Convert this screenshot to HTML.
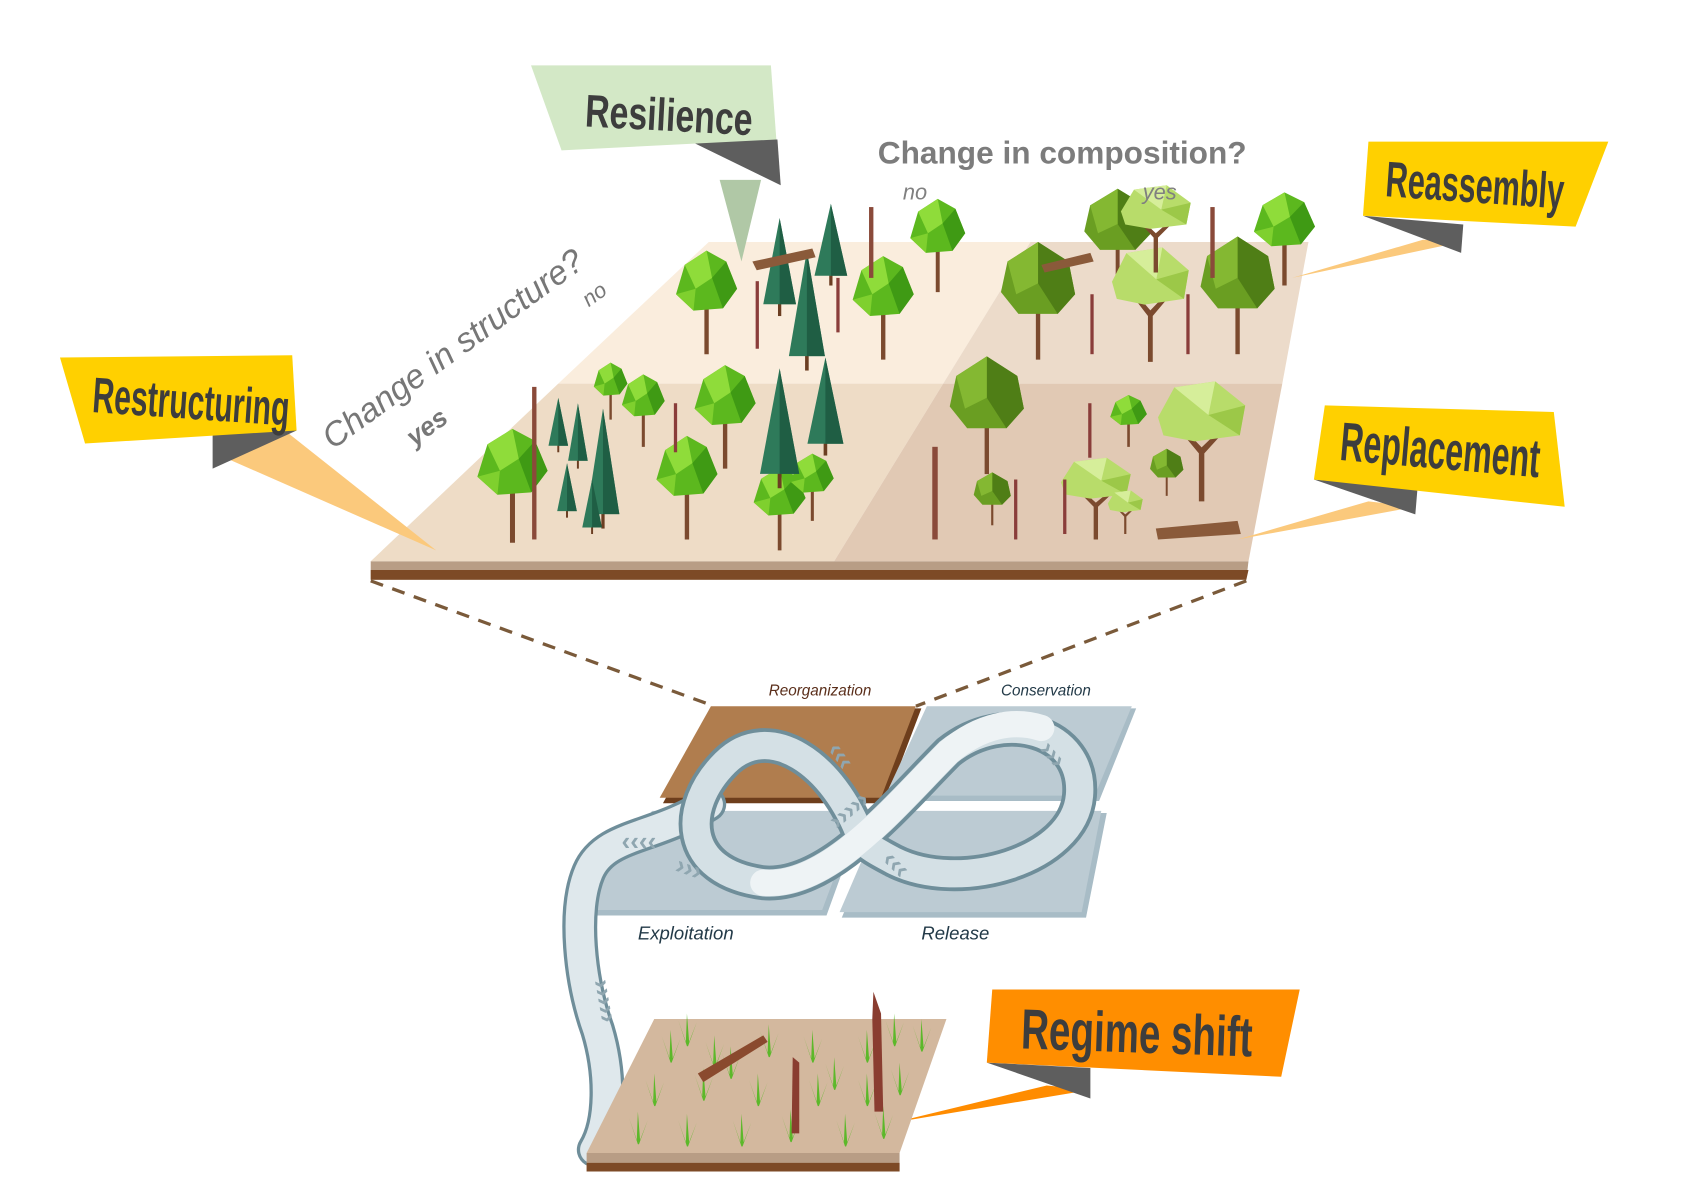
<!DOCTYPE html>
<html><head><meta charset="utf-8"><style>
html,body{margin:0;padding:0;background:#fff;}
svg{display:block}
.lab{font-family:"Liberation Sans",sans-serif;font-weight:bold;fill:#3d3d3d;}
.it{font-family:"Liberation Sans",sans-serif;font-style:italic;}
</style></head><body>
<svg width="1701" height="1177" viewBox="0 0 1560 1080" preserveAspectRatio="none" xmlns="http://www.w3.org/2000/svg">
<defs>
<g id="bl">
<path d="M-2 0 L2 0 L2 -45 L10 -60 L7 -61 L0 -50 L-6 -62 L-9 -60 L-2 -45Z" fill="#7b4a2e"/>
<polygon points="-28,-55 -20,-82 0,-95 18,-85 28,-60 15,-42 -12,-40" fill="#5cb81e"/>
<polygon points="-20,-82 0,-95 5,-70 -10,-60" fill="#8fdc3a"/>
<polygon points="5,-70 18,-85 28,-60 15,-42" fill="#3f9a14"/>
<polygon points="-28,-55 -10,-60 -12,-40" fill="#7fd02e"/>
</g>
<g id="cf">
<rect x="-1.5" y="-15" width="3" height="15" fill="#6b3e22"/>
<polygon points="0,-100 -15,-12 15,-12" fill="#2e7a5a"/>
<polygon points="0,-100 0,-12 15,-12" fill="#1f5e44"/>
</g>
<g id="ol">
<rect x="-2" y="-45" width="4" height="45" fill="#7b4a2e"/>
<polygon points="0,-108 28,-90 34,-60 18,-42 -18,-42 -34,-62 -28,-90" fill="#6a9e22"/>
<polygon points="0,-108 28,-90 34,-60 18,-42 0,-70" fill="#4f7e16"/>
<polygon points="-28,-90 0,-108 0,-70 -20,-60" fill="#84b832"/>
</g>
<g id="lt">
<path d="M-2 0 L2 0 L2 -40 L14 -55 L11 -57 L0 -45 L-10 -57 L-13 -55 L-2 -40Z" fill="#7b4a2e"/>
<polygon points="-32,-70 -20,-95 10,-100 32,-80 28,-55 -5,-50 -28,-55" fill="#b8dc6a"/>
<polygon points="-20,-95 10,-100 5,-72" fill="#d6ee9a"/>
<polygon points="5,-72 32,-80 28,-55" fill="#9cc848"/>
</g>
<g id="gr">
<path d="M0 0 L-8 -24 L-1 -4 L0 -30 L2 -4 L9 -22 L1 0Z" fill="#5cb82a"/>
</g>
</defs>

<!-- top platform -->
<polygon points="340,515 1145,515 1143,532 340,532" fill="#b89d85"/>
<polygon points="340,523 1145,523 1143,532 340,532" fill="#7d4a26"/>
<polygon points="650,222 945,222 865,352 512,352" fill="#faeddd"/>
<polygon points="945,222 1200,222 1176,352 865,352" fill="#ecdbca"/>
<polygon points="512,352 865,352 765,515 340,515" fill="#eedcc6"/>
<polygon points="865,352 1176,352 1145,515 765,515" fill="#e1c9b4"/>

<!-- trees top-left -->
<use href="#bl" transform="translate(648 325)"/>
<use href="#bl" transform="translate(810 330)"/>
<use href="#bl" transform="translate(860 268) scale(0.9)"/>
<use href="#cf" transform="translate(715 290) scale(1 0.9)"/>
<use href="#cf" transform="translate(740 340) scale(1.1 1.1)"/>
<use href="#cf" transform="translate(762 262) scale(1 0.75)"/>
<rect x="693" y="258" width="3" height="62" fill="#8a3d3a"/>
<rect x="767" y="255" width="3" height="50" fill="#8a3d3a"/>
<rect x="797" y="190" width="4" height="65" fill="#8a4a3a"/>
<polygon points="690,240 745,228 748,236 694,248" fill="#8a5a3a"/>
<!-- top-right -->
<use href="#ol" transform="translate(952 330)"/>
<use href="#ol" transform="translate(1135 325)"/>
<use href="#ol" transform="translate(1025 265) scale(0.9 0.85)"/>
<use href="#lt" transform="translate(1055 332) scale(1.1 1.05)"/>
<use href="#lt" transform="translate(1060 250) scale(1 0.8)"/>
<use href="#bl" transform="translate(1178 262) scale(1 0.9)"/>
<rect x="1110" y="190" width="4" height="65" fill="#8a4a3a"/>
<rect x="1000" y="270" width="3" height="55" fill="#8a3d3a"/>
<rect x="1088" y="270" width="3" height="55" fill="#8a3d3a"/>
<polygon points="955,243 1000,232 1003,240 958,250" fill="#8a5a3a"/>
<!-- bottom-left -->
<use href="#bl" transform="translate(470 498) scale(1.15 1.1)"/>
<use href="#bl" transform="translate(630 495)"/>
<use href="#bl" transform="translate(665 430)"/>
<use href="#bl" transform="translate(590 410) scale(0.7)"/>
<use href="#bl" transform="translate(560 385) scale(0.55)"/>
<use href="#bl" transform="translate(715 505) scale(0.85 0.8)"/>
<use href="#bl" transform="translate(745 478) scale(0.7 0.65)"/>
<use href="#cf" transform="translate(512 415) scale(0.6 0.5)"/>
<use href="#cf" transform="translate(520 475) scale(0.6 0.5)"/>
<use href="#cf" transform="translate(553 485) scale(1 1.1)"/>
<use href="#cf" transform="translate(543 490) scale(0.6 0.5)"/>
<use href="#cf" transform="translate(715 448) scale(1.2 1.1)"/>
<use href="#cf" transform="translate(757 418) scale(1.1 0.9)"/>
<use href="#cf" transform="translate(530 430) scale(0.6 0.6)"/>
<rect x="488" y="355" width="4" height="140" fill="#8a4a3a"/>
<rect x="618" y="370" width="3" height="45" fill="#8a3d3a"/>
<!-- bottom-right -->
<use href="#ol" transform="translate(905 435)"/>
<use href="#ol" transform="translate(910 482) scale(0.5 0.45)"/>
<use href="#ol" transform="translate(1070 455) scale(0.45 0.4)"/>
<use href="#lt" transform="translate(1102 460) scale(1.25 1.1)"/>
<use href="#lt" transform="translate(1005 495) scale(1 0.75)"/>
<use href="#lt" transform="translate(1032 490) scale(0.5 0.4)"/>
<use href="#bl" transform="translate(1035 410) scale(0.6 0.5)"/>
<rect x="855" y="410" width="5" height="85" fill="#8a4a3a"/>
<rect x="998" y="370" width="3" height="50" fill="#8a3d3a"/>
<rect x="975" y="440" width="3" height="50" fill="#8a3d3a"/>
<rect x="930" y="440" width="3" height="55" fill="#8a3d3a"/>
<polygon points="1060,485 1135,478 1138,490 1062,495" fill="#8a5a3a"/>

<!-- axis text -->
<text x="805" y="150" font-family="Liberation Sans,sans-serif" font-weight="bold" font-size="29" fill="#7c7c7c">Change in composition?</text>
<text x="828" y="183" class="it" font-size="20" fill="#808080">no</text>
<text x="1048" y="183" class="it" font-size="20" fill="#808080">yes</text>
<text transform="translate(305,413) rotate(-36)" class="it" font-size="31" fill="#777">Change in structure?</text>
<text transform="translate(540,282) rotate(-36)" class="it" font-size="20" fill="#777">no</text>
<text transform="translate(380,410) rotate(-36)" class="it" font-size="24" font-weight="bold" fill="#777">yes</text>

<!-- callouts -->
<polygon points="660,165 698,165 680,240" fill="#b0c8a6"/>
<polygon points="630,128 713,128 716,170" fill="#5e5e5e"/>
<polygon points="487,60 707,60 712,128 515,138" fill="#d3e8c6"/>
<text class="lab" font-size="42" transform="translate(536 116) rotate(3) scale(0.74 1)">Resilience</text>

<polygon points="1305,220 1340,222 1185,255" fill="#fbc97c"/>
<polygon points="1250,198 1342,206 1340,232" fill="#5e5e5e"/>
<polygon points="1255,130 1475,130 1445,208 1250,198" fill="#ffd000"/>
<text class="lab" font-size="46" transform="translate(1270 180) rotate(4) scale(0.61 1)">Reassembly</text>

<polygon points="195,415 265,398 400,505" fill="#fbc97c"/>
<polygon points="195,395 272,395 195,430" fill="#5e5e5e"/>
<polygon points="55,328 268,326 272,395 78,407" fill="#ffd000"/>
<text class="lab" font-size="46" transform="translate(84 378) rotate(4) scale(0.6 1)">Restructuring</text>

<polygon points="1255,460 1298,465 1135,495" fill="#fbc97c"/>
<polygon points="1205,440 1300,448 1298,472" fill="#5e5e5e"/>
<polygon points="1215,372 1425,378 1435,465 1205,440" fill="#ffd000"/>
<text class="lab" font-size="50" transform="translate(1228 422) rotate(5) scale(0.59 1)">Replacement</text>

<polygon points="960,996 1000,1000 820,1030" fill="#ff8c00"/>
<polygon points="905,975 1000,980 1000,1008" fill="#5e5e5e"/>
<polygon points="910,908 1192,908 1175,988 905,975" fill="#ff8e00"/>
<text class="lab" font-size="52" transform="translate(936 962) rotate(2) scale(0.68 1)">Regime shift</text>

<!-- dashed -->
<line x1="340" y1="533" x2="655" y2="648" stroke="#7a5a3a" stroke-width="3" stroke-dasharray="12 9"/>
<line x1="1143" y1="533" x2="840" y2="648" stroke="#7a5a3a" stroke-width="3" stroke-dasharray="12 9"/>

<!-- panarchy planes -->
<polygon points="655,650 845,650 812,737 608,737" fill="#6e3e1c"/>
<polygon points="652,648 840,648 808,732 605,732" fill="#b07d4e"/>
<polygon points="852,650 1042,650 1008,735 815,735" fill="#a8bcc6"/>
<polygon points="850,648 1038,648 1004,730 812,730" fill="#bccbd3"/>
<polygon points="600,746 792,746 758,840 535,840" fill="#a8bcc6"/>
<polygon points="598,744 788,744 754,835 533,835" fill="#bccbd3"/>
<polygon points="812,746 1015,746 996,842 772,842" fill="#a8bcc6"/>
<polygon points="810,744 1010,744 992,837 770,837" fill="#bccbd3"/>
<text x="705" y="638" class="it" font-size="14" fill="#5a2e1a">Reorganization</text>
<text x="918" y="638" class="it" font-size="14" fill="#233a48">Conservation</text>
<text x="585" y="862" class="it" font-size="17" fill="#233a48">Exploitation</text>
<text x="845" y="862" class="it" font-size="17" fill="#233a48">Release</text>

<!-- ribbon -->
<g fill="none" stroke-linecap="round">
<path d="M650 738 C600 770,555 765,540 800 C525 835,532 900,548 945 C560 985,560 1030,545 1055" stroke="#6f8e9a" stroke-width="32"/>
<path d="M650 738 C600 770,555 765,540 800 C525 835,532 900,548 945 C560 985,560 1030,545 1055" stroke="#dfe8ec" stroke-width="26"/>
<path d="M790 770 C765 700,705 660,665 700 C625 740,625 800,700 810 C760 815,820 740,870 690 C920 650,995 670,990 730 C985 790,880 820,820 790 C805 782,797 778,790 770" stroke="#6f8e9a" stroke-width="32"/>
<path d="M790 770 C765 700,705 660,665 700 C625 740,625 800,700 810 C760 815,820 740,870 690 C920 650,995 670,990 730 C985 790,880 820,820 790 C805 782,797 778,790 770" stroke="#d4e0e5" stroke-width="25"/>
<path d="M700 810 C760 815,820 740,870 690 C900 665,930 660,955 668" stroke="#eef3f5" stroke-width="24"/>
</g>
<g font-family="Liberation Sans,sans-serif" font-weight="bold" font-size="24" fill="#8fa6b0">
<text x="768" y="762" transform="rotate(-40 768 762)">›››››</text>
<text x="618" y="800" transform="rotate(20 618 800)">›››</text>
<text x="570" y="780">‹‹‹‹</text>
<text x="758" y="688" transform="rotate(55 758 688)">‹‹‹</text>
<text x="952" y="688" transform="rotate(50 952 688)">›››</text>
<text x="808" y="790" transform="rotate(45 808 790)">‹‹‹</text>
<text x="544" y="900" transform="rotate(80 544 900)">›››››</text>
</g>

<!-- bottom platform -->
<polygon points="538,1058 825,1058 825,1075 538,1075" fill="#b89d85"/>
<polygon points="538,1067 825,1067 825,1075 538,1075" fill="#7d4a26"/>
<polygon points="600,935 868,935 825,1058 538,1058" fill="#d3b89e"/>
<g>
<use href="#gr" transform="translate(615 975)"/><use href="#gr" transform="translate(655 980)"/>
<use href="#gr" transform="translate(705 970)"/><use href="#gr" transform="translate(745 975)"/>
<use href="#gr" transform="translate(795 975)"/><use href="#gr" transform="translate(845 965)"/>
<use href="#gr" transform="translate(600 1015)"/><use href="#gr" transform="translate(645 1010)"/>
<use href="#gr" transform="translate(695 1015)"/><use href="#gr" transform="translate(750 1015)"/>
<use href="#gr" transform="translate(795 1015)"/><use href="#gr" transform="translate(825 1005)"/>
<use href="#gr" transform="translate(585 1050)"/><use href="#gr" transform="translate(630 1052)"/>
<use href="#gr" transform="translate(680 1052)"/><use href="#gr" transform="translate(725 1048)"/>
<use href="#gr" transform="translate(775 1052)"/><use href="#gr" transform="translate(810 1045)"/>
<use href="#gr" transform="translate(670 990)"/><use href="#gr" transform="translate(765 1000)"/>
<use href="#gr" transform="translate(630 960)"/><use href="#gr" transform="translate(820 960)"/>
</g>
<polygon points="640,985 700,950 704,956 645,993" fill="#8a4a2e"/>
<polygon points="801,910 808,930 810,1020 802,1020 800,935" fill="#8a3d30"/>
<polygon points="727,970 733,975 733,1040 726,1040" fill="#8a3d30"/>
</svg>
</body></html>
